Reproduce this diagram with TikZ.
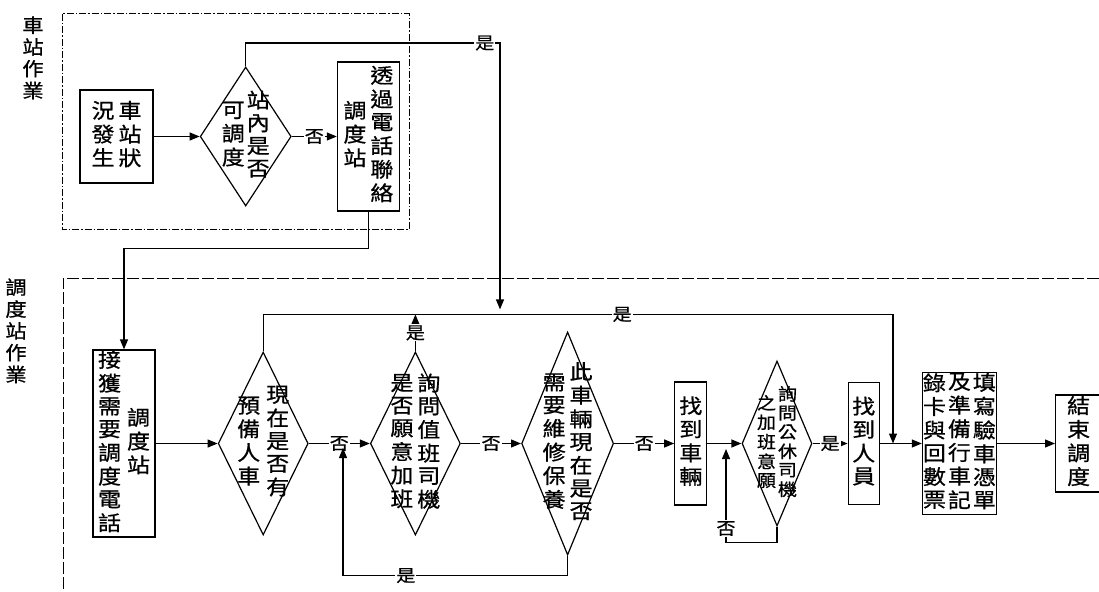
\documentclass[tikz,border=0pt]{standalone}
\usepackage{fontspec}
\setmainfont{Noto Sans CJK TC}[FakeBold=0.8,FakeStretch=1.12]
\usepackage{tikz}
\usetikzlibrary{arrows.meta,positioning,shapes.geometric}
\newcommand{\vcol}[1]{\begin{tabular}{@{}c@{}}#1\end{tabular}}

\begin{document}
\begin{tikzpicture}[x=1pt,y=-1pt,>={Triangle[length=10pt,width=8pt]},
  box/.style={rectangle,draw=black,line width=1.2pt,inner sep=0pt,font=\fontsize{20.5}{21.5}\selectfont},
  dec/.style={diamond,draw=black,line width=1.2pt,inner sep=0pt},
  dectext/.style={inner sep=0pt,font=\fontsize{20.5}{21.5}\selectfont},
  lab/.style={fill=white,inner sep=1pt,font=\fontsize{17}{18}\selectfont},
  lane/.style={inner sep=0pt,font=\fontsize{19}{19.5}\selectfont},
  link/.style={->,draw=black,line width=1.2pt}]
\useasboundingbox (0,0) rectangle (1099,591);
\draw[line width=1pt,dash pattern=on 7pt off 2pt on 1.5pt off 2pt] (62,14) rectangle (409,229);
\draw[line width=0.9pt,dash pattern=on 12pt off 3pt] (1099,278) -- (63,278) -- (63,591);
\node[lane] (lane1) at (33,60) {\vcol{車\\站\\作\\業}};
\node[lane] (lane2) at (16,333) {\vcol{調\\度\\站\\作\\業}};

\node[box,minimum width=73pt,minimum height=93pt] (s1) at (116.5,136.5) {\vcol{況\\發\\生}\hspace{4pt}\vcol{車\\站\\狀}};
\node[dec,minimum width=91pt,minimum height=139pt,right=46pt of s1] (q0) {};
\node[dectext] (q0t) at (q0) {\vcol{可\\調\\度}\hspace{2pt}\vcol{站\\內\\是\\否}};
\node[box,minimum width=62pt,minimum height=149pt,right=45pt of q0] (s2) {\vcol{調\\度\\站}\hspace{4pt}\vcol{透\\過\\電\\話\\聯\\絡}};
\coordinate (c1) at (500,43);

\node[box,minimum width=62pt,minimum height=183pt] (r1) at (124,443.5) {\vcol{接\\獲\\需\\要\\調\\度\\電\\話}\hspace{6pt}\vcol{調\\度\\站}};
\node[dec,minimum width=90pt,minimum height=183pt,right=62pt of r1] (q1) {};
\node[dectext] (q1t) at (q1) {\vcol{預\\備\\人\\車}\hspace{6pt}\vcol{現\\在\\是\\否\\有}};
\node[dec,minimum width=90pt,minimum height=183pt,right=61pt of q1] (q2) {};
\node[dectext] (q2t) at (q2) {\vcol{是\\否\\願\\意\\加\\班}\hspace{4pt}\vcol{詢\\問\\值\\班\\司\\機}};
\node[dec,minimum width=92pt,minimum height=223pt,right=60pt of q2] (q3) {};
\node[dectext] (q3t) at (q3) {\vcol{需\\要\\維\\修\\保\\養}\hspace{4pt}\vcol{此\\車\\輛\\現\\在\\是\\否}};
\node[box,minimum width=32pt,minimum height=123pt,right=60pt of q3] (r2) {\vcol{找\\到\\車\\輛}};
\node[dec,minimum width=70pt,minimum height=165pt,right=34pt of r2] (q4) {};
\node[dectext,font=\fontsize{17}{17.5}\selectfont] (q4t) at (q4) {\vcol{之\\加\\班\\意\\願}\hspace{2pt}\vcol{詢\\問\\公\\休\\司\\機}};
\node[box,minimum width=31pt,minimum height=122pt,right=35pt of q4] (r3) {\vcol{找\\到\\人\\員}};
\node[box,minimum width=74pt,minimum height=141pt,right=42pt of r3] (r4) {\vcol{錄\\卡\\與\\回\\數\\票}\hspace{2pt}\vcol{及\\準\\備\\行\\車\\記}\hspace{2pt}\vcol{填\\寫\\驗\\車\\憑\\單}};
\node[box,minimum width=46pt,minimum height=97pt,right=58pt of r4] (r5) {\vcol{結\\束\\調\\度}};
\coordinate (j2) at (893,443.5);
\coordinate (m1) at (343,448);
\coordinate (m2) at (726,449);

\draw[link] (s1.east) -- (q0.west);
\draw[link] (q0.east) -- node[lab]{否} (s2.west);
\draw[link] (s2.south) -- ++(0,37) -| (r1.north);
\draw[link] (r1.east) -- (q1.west);
\draw[link] (q1.east) -- node[lab]{否} (q2.west);
\draw[link] (q2.east) -- node[lab]{否} (q3.west);
\draw[link] (q3.east) -- node[lab]{否} (r2.west);
\draw[link] (r2.east) -- (q4.west);
\draw[link] (q4.east) -- node[lab]{是} (r3.west);
\draw[link] (r3.east) -- (r4.west);
\draw[link] (r4.east) -- (r5.west);
\draw[link] (q1.north) -- ++(0,-37) coordinate (bus) -| node[lab,pos=0.285]{是} (j2);
\draw[link,shorten >=5pt] (q0.north) |- node[lab,pos=0.97]{是} (c1) -- (c1 |- bus);
\draw[link] (q2.north) -- node[lab]{是} (q2.north |- bus);
\draw[link] (q3.south) -- ++(0,20) -| node[lab,pos=0.36]{是} (m1);
\draw[link] (q4.south) -- ++(0,16) -| node[lab,pos=0.575]{否} (m2);
\end{tikzpicture}
\end{document}
